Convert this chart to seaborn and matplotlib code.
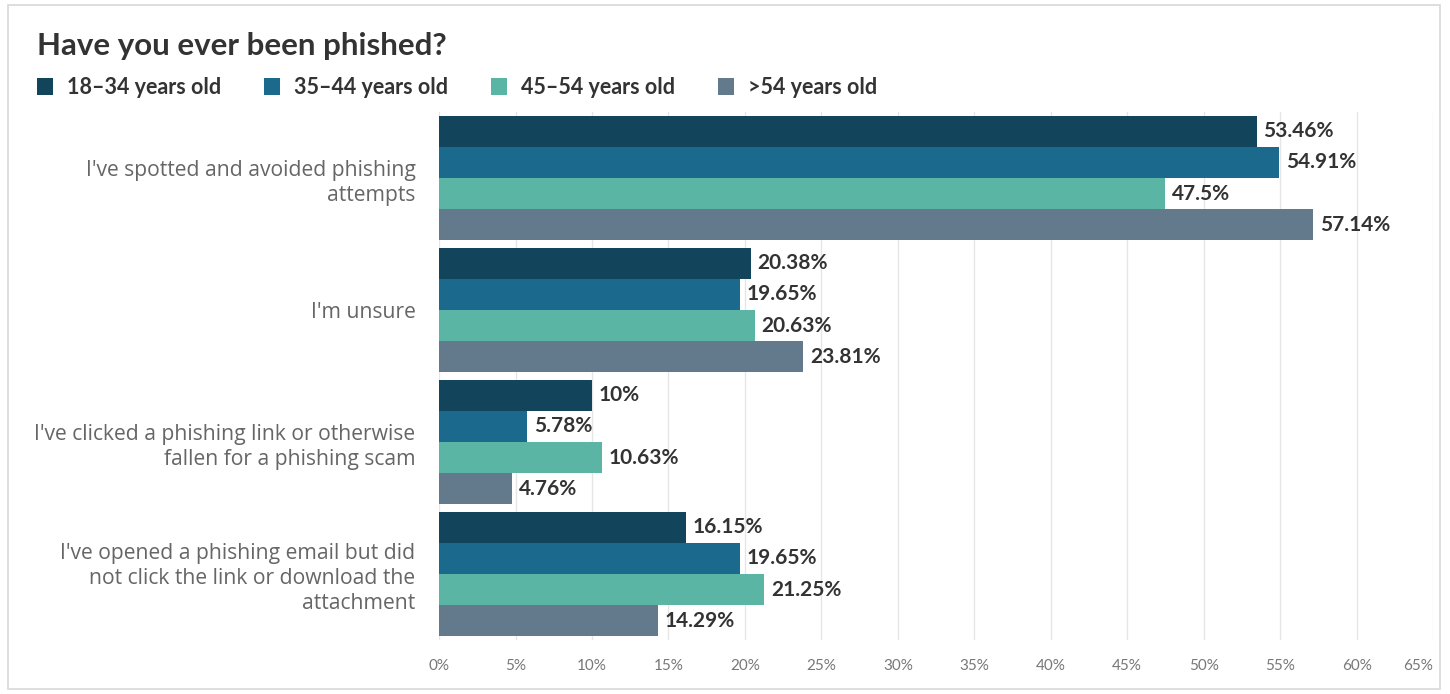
import matplotlib
matplotlib.use("Agg")
import matplotlib.pyplot as plt
import seaborn as sns
import pandas as pd
from matplotlib.patches import Rectangle

categories = [
    "I've spotted and avoided phishing\nattempts",
    "I'm unsure",
    "I've clicked a phishing link or otherwise\nfallen for a phishing scam",
    "I've opened a phishing email but did\nnot click the link or download the\nattachment",
]
groups = ["18-34 years old", "35-44 years old", "45-54 years old", ">54 years old"]
vals_18_34 = [53.46, 20.38, 10.0, 16.15]
vals_35_44 = [54.91, 19.65, 5.78, 19.65]
vals_45_54 = [47.5, 20.63, 10.63, 21.25]
vals_54p = [57.14, 23.81, 4.76, 14.29]
value_labels = [
    ["53.46%", "20.38%", "10%", "16.15%"],
    ["54.91%", "19.65%", "5.78%", "19.65%"],
    ["47.5%", "20.63%", "10.63%", "21.25%"],
    ["57.14%", "23.81%", "4.76%", "14.29%"],
]
xticks = [0, 5, 10, 15, 20, 25, 30, 35, 40, 45, 50, 55, 60, 65]
colors = ["#12455B", "#1B6A8E", "#5BB5A5", "#627A8C"]

rows = []
for g, vals in zip(groups, [vals_18_34, vals_35_44, vals_45_54, vals_54p]):
    for c, v in zip(categories, vals):
        rows.append({"category": c, "group": g, "value": v})
df = pd.DataFrame(rows)

sns.set_theme(style="white")
plt.rcParams["font.family"] = ["Lato", "DejaVu Sans"]

fig = plt.figure(figsize=(14.5, 6.94), dpi=100)
ax = fig.add_axes([0.3028, 0.0778, 0.6855, 0.7608])

sns.barplot(data=df, y="category", x="value", hue="group", order=categories,
            hue_order=groups, palette=colors, width=0.945, orient="h",
            ax=ax, legend=False, saturation=1, linewidth=0)

for container, labels in zip(ax.containers, value_labels):
    ax.bar_label(container, labels=labels, padding=5, fontsize=15,
                 fontweight="bold", color="#333333")

ax.set_xlim(0, 65)
ax.set_ylim(3.5, -0.5)
ax.set_xticks(xticks)
ax.set_xticklabels([f"{t}%" for t in xticks], color="#777777", fontsize=11)
ax.get_xticklabels()[-1].set_horizontalalignment("right")
ax.tick_params(axis="x", length=0, pad=14)
ax.tick_params(axis="y", length=0, pad=17)
for lbl in ax.get_yticklabels():
    lbl.set_color("#666666")
    lbl.set_fontsize(15.2)
    lbl.set_family(["Open Sans", "DejaVu Sans"])
    lbl.set_horizontalalignment("right")
    lbl.set_multialignment("right")
    lbl.set_linespacing(1.25)
ax.set_xlabel("")
ax.set_ylabel("")
ax.grid(axis="x", color="#e6e6e6", linewidth=1)
ax.set_axisbelow(True)
for s in ax.spines.values():
    s.set_visible(False)

fig.text(37 / 1450, 1 - 46 / 694, "Have you ever been phished?", fontsize=22.5,
         fontweight="bold", color="#333333", va="center", ha="left")

legend_x = [37, 264, 491, 718]
for x, g, col in zip(legend_x, groups, colors):
    fig.patches.append(Rectangle((x / 1450, 1 - 95 / 694), 16 / 1450, 17 / 694,
                                 transform=fig.transFigure, facecolor=col,
                                 edgecolor="none"))
    fig.text((x + 30) / 1450, 1 - 87 / 694, g.replace("-", "–"), fontsize=15.5,
             fontweight="bold", color="#333333", va="center", ha="left")

fig.patches.append(Rectangle((8 / 1450, 5 / 694), 1432 / 1450, 684 / 694,
                             transform=fig.transFigure, facecolor="none",
                             edgecolor="#d8d8d8", linewidth=1.2))

fig.savefig("out.png", dpi=100)
